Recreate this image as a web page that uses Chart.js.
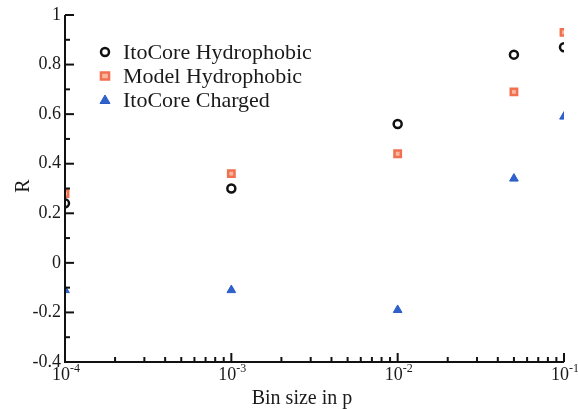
<!DOCTYPE html>
<html>
<head>
<meta charset="utf-8">
<script src="https://cdn.jsdelivr.net/npm/chart.js@4/dist/chart.umd.min.js"></script>
<style>
  html, body { margin: 0; padding: 0; background: #fff; }
  canvas { display: block; }
</style>
</head>
<body>
<canvas id="grafico" width="578" height="409"></canvas>
<script>
// dados
const binSizes = [1e-4, 1e-3, 1e-2, 5e-2, 1e-1];
const itoHydrophobic = [0.24, 0.30, 0.56, 0.84, 0.87];
const modelHydrophobic = [0.28, 0.36, 0.44, 0.69, 0.93];
const itoCharged = [-0.11, -0.11, -0.19, 0.34, 0.59];
const yTicks = [-0.4, -0.2, 0, 0.2, 0.4, 0.6, 0.8, 1];
const xTicks = [1e-4, 1e-3, 1e-2, 1e-1];
const xTickExp = ['-4', '-3', '-2', '-1'];

const serif = '"Liberation Serif", "DejaVu Serif", serif';

function pontos(vals) {
  return binSizes.map((x, i) => ({ x, y: vals[i] }));
}

function drawMarker(ctx, style, x, y, r) {
  ctx.beginPath();
  if (style === 'circle') {
    ctx.arc(x, y, r, 0, Math.PI * 2);
  } else if (style === 'rect') {
    ctx.rect(x - r * 0.9, y - r * 0.8, r * 1.8, r * 1.6);
  } else {
    ctx.moveTo(x, y - r);
    ctx.lineTo(x + r, y + r * 0.7);
    ctx.lineTo(x - r, y + r * 0.7);
    ctx.closePath();
  }
  ctx.fill();
  ctx.stroke();
}

// eixos, ticks internos, rotulos e legenda desenhados a mao
const eixosPlugin = {
  id: 'eixos',
  afterDraw(chart) {
    const ctx = chart.ctx;
    const xs = chart.scales.x, ys = chart.scales.y;
    const area = chart.chartArea;
    ctx.save();
    ctx.strokeStyle = '#111';
    ctx.lineWidth = 2;
    ctx.beginPath();
    ctx.moveTo(area.left, area.top);
    ctx.lineTo(area.left, area.bottom);
    ctx.lineTo(area.right, area.bottom);
    ctx.stroke();

    // ticks do eixo y
    for (let v = -4; v <= 10; v++) {
      const py = ys.getPixelForValue(v / 10);
      const len = v % 2 === 0 ? 9 : 5;
      ctx.beginPath();
      ctx.moveTo(area.left, py);
      ctx.lineTo(area.left + len, py);
      ctx.stroke();
    }
    // ticks do eixo x (log)
    for (let e = -4; e <= -2; e++) {
      for (let m = 1; m <= 9; m++) {
        const px = xs.getPixelForValue(m * Math.pow(10, e));
        const len = m === 1 ? 9 : 5;
        ctx.beginPath();
        ctx.moveTo(px, area.bottom);
        ctx.lineTo(px, area.bottom - len);
        ctx.stroke();
      }
    }
    const pxEnd = xs.getPixelForValue(1e-1);
    ctx.beginPath();
    ctx.moveTo(pxEnd, area.bottom);
    ctx.lineTo(pxEnd, area.bottom - 9);
    ctx.stroke();

    // rotulos y
    ctx.fillStyle = '#1a1a1a';
    ctx.font = '18px ' + serif;
    ctx.textAlign = 'right';
    ctx.textBaseline = 'middle';
    yTicks.forEach(v => {
      const txt = Math.abs(v) < 1e-9 ? '0' : String(v);
      ctx.fillText(txt, area.left - 4, ys.getPixelForValue(v));
    });

    // rotulos x com expoente
    xTicks.forEach((v, i) => {
      const px = xs.getPixelForValue(v);
      ctx.font = '18px ' + serif;
      ctx.textAlign = 'center';
      ctx.textBaseline = 'top';
      ctx.fillText('10', px - 4, area.bottom + 4);
      ctx.font = '12px ' + serif;
      ctx.textAlign = 'left';
      ctx.fillText(xTickExp[i], px + 5, area.bottom + 1);
    });

    // titulos dos eixos
    ctx.font = '20px ' + serif;
    ctx.textAlign = 'center';
    ctx.textBaseline = 'alphabetic';
    ctx.fillText('Bin size in p', 302, 404);
    ctx.save();
    ctx.translate(24, 186);
    ctx.rotate(-Math.PI / 2);
    ctx.textBaseline = 'middle';
    ctx.fillText('R', 0, 0);
    ctx.restore();

    // legenda
    const lx = area.left + 40, ly = area.top + 37;
    chart.data.datasets.forEach((ds, i) => {
      const cy = ly + i * 24;
      ctx.fillStyle = ds.backgroundColor;
      ctx.strokeStyle = ds.borderColor;
      ctx.lineWidth = ds.borderWidth;
      drawMarker(ctx, ds.pointStyle, lx, cy, ds.pointRadius);
      ctx.fillStyle = '#1a1a1a';
      ctx.font = '22px ' + serif;
      ctx.textAlign = 'left';
      ctx.textBaseline = 'middle';
      ctx.fillText(ds.label, lx + 18, cy + 1);
    });
    ctx.restore();
  }
};

document.addEventListener('DOMContentLoaded', () => {
  const canvas = document.getElementById('grafico');
  new Chart(canvas, {
    type: 'scatter',
    data: {
      datasets: [
        {
          label: 'ItoCore Hydrophobic',
          data: pontos(itoHydrophobic),
          pointStyle: 'circle',
          pointRadius: 4,
          borderWidth: 2.5,
          borderColor: '#111',
          backgroundColor: '#fff'
        },
        {
          label: 'Model Hydrophobic',
          data: pontos(modelHydrophobic),
          pointStyle: 'rect',
          pointRadius: 4.5,
          borderWidth: 2.5,
          borderColor: '#f07050',
          backgroundColor: '#f8b8a0'
        },
        {
          label: 'ItoCore Charged',
          data: pontos(itoCharged),
          pointStyle: 'triangle',
          pointRadius: 5,
          borderWidth: 1,
          borderColor: '#2a5cc8',
          backgroundColor: '#2f62cc'
        }
      ]
    },
    options: {
      responsive: false,
      animation: false,
      devicePixelRatio: 1,
      layout: { padding: { left: 65, right: 14, top: 15, bottom: 47 } },
      plugins: { legend: { display: false }, tooltip: { enabled: false } },
      scales: {
        x: {
          type: 'logarithmic',
          min: 1e-4,
          max: 1e-1,
          display: false
        },
        y: {
          min: -0.4,
          max: 1,
          display: false
        }
      }
    },
    plugins: [eixosPlugin]
  });
});
</script>
</body>
</html>
